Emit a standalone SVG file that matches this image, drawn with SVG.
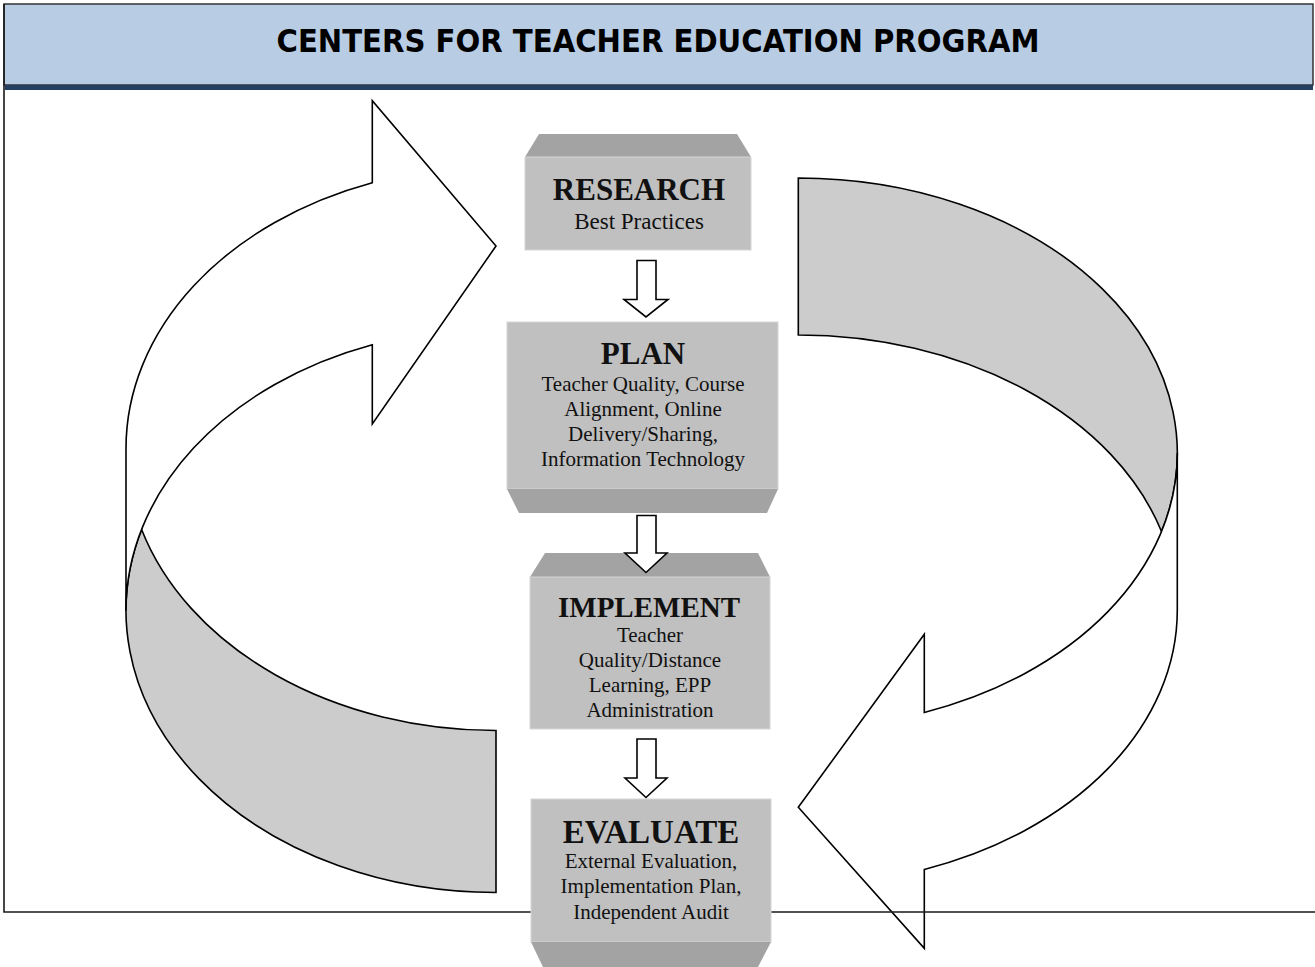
<svg xmlns="http://www.w3.org/2000/svg" width="1315" height="967" viewBox="0 0 1315 967">
<style>
.band{fill:#cccccc;stroke:#000;stroke-width:1.6;stroke-linejoin:miter}
.front{fill:#ffffff;stroke:#000;stroke-width:1.6;stroke-linejoin:miter}
.frame{fill:none;stroke:#1a1a1a;stroke-width:1.6}
.box{fill:#c0c0c0;stroke:#d6d6d6;stroke-width:1}
.bevel{fill:#a3a3a3}
.blk{fill:#fff;stroke:#000;stroke-width:1.6;stroke-linejoin:miter}
.h{font-family:"Liberation Serif","Times New Roman",serif;font-weight:bold;font-size:31px;fill:#111;text-anchor:middle}
.t{font-family:"Liberation Serif","Times New Roman",serif;font-size:21px;fill:#111;text-anchor:middle}
.title{font-family:"DejaVu Sans",Verdana,sans-serif;font-weight:bold;font-size:32px;fill:#000;text-anchor:middle}
</style>
<rect x="0" y="0" width="1315" height="967" fill="#fff"/>

<g id="title">
<rect x="4" y="4" width="1309" height="81" fill="#b8cce4" stroke="#333" stroke-width="1.5"/>
<rect x="5" y="85" width="1308" height="5" fill="#243f60"/>
<text class="title" x="658" y="52" textLength="763" lengthAdjust="spacingAndGlyphs">CENTERS FOR TEACHER EDUCATION PROGRAM</text>
</g>

<g id="cycle-left">
<path class="band" d="M496,730.5 A370 282 0 0 1 141.6,529.5 A370 282 0 0 0 496,892.5 Z"/>
<path class="front" d="M126,448.5 A370 282 0 0 1 372.3,182.7 L372.3,100.7 L496,246 L372.3,424 L372.3,344.7 A370 282 0 0 0 126,610.5 Z"/>
</g>

<g id="cycle-right">
<path class="band" d="M798.3,335 A379 275 0 0 1 1161.5,531.5 A379 275 0 0 0 798.3,178 Z"/>
<path class="front" d="M1177.3,610 A379 275 0 0 1 924.3,869.4 L924.3,948.3 L798.3,807.3 L924.3,634.3 L924.3,712.4 A379 275 0 0 0 1177.3,453 Z"/>
</g>

<g id="frame">
<path class="frame" d="M4,4 V912 H1315"/>
</g>

<g id="research">
<polygon class="bevel" points="539,134 737,134 751,157 525,157"/>
<rect class="box" x="525" y="157" width="226" height="93"/>
<text class="h" x="639" y="200">RESEARCH</text>
<text class="t" x="639" y="229" style="font-size:23px">Best Practices</text>
</g>

<g id="plan">
<rect class="box" x="507" y="322" width="271" height="167"/>
<polygon class="bevel" points="507,489 778,489 767,513 519,513"/>
<text class="h" x="643" y="364">PLAN</text>
<text class="t" x="643" y="391">Teacher Quality, Course</text>
<text class="t" x="643" y="416">Alignment, Online</text>
<text class="t" x="643" y="441">Delivery/Sharing,</text>
<text class="t" x="643" y="466">Information Technology</text>
</g>

<g id="implement">
<polygon class="bevel" points="545,553 758,553 770,577 530,577"/>
<rect class="box" x="530" y="577" width="240" height="152"/>
<text class="h" x="649" y="617" style="font-size:29px">IMPLEMENT</text>
<text class="t" x="650" y="642">Teacher</text>
<text class="t" x="650" y="667">Quality/Distance</text>
<text class="t" x="650" y="692">Learning, EPP</text>
<text class="t" x="650" y="717">Administration</text>
</g>

<g id="evaluate">
<rect class="box" x="531" y="799" width="240" height="143"/>
<polygon class="bevel" points="531,942 771,942 758,967 543,967"/>
<text class="h" x="651" y="843" style="font-size:33px">EVALUATE</text>
<text class="t" x="651" y="868">External Evaluation,</text>
<text class="t" x="651" y="893">Implementation Plan,</text>
<text class="t" x="651" y="919">Independent Audit</text>
</g>

<g id="connectors">
<path class="blk" d="M637,260.5 H656 V299.5 H668 L646,317 L624,299.5 H637 Z"/>
<path class="blk" d="M637,515.5 H656 V553 H667 L646,572.5 L625,553 H637 Z"/>
<path class="blk" d="M637,739 H656 V778 H667 L646,797.5 L625,778 H637 Z"/>
</g>
</svg>
